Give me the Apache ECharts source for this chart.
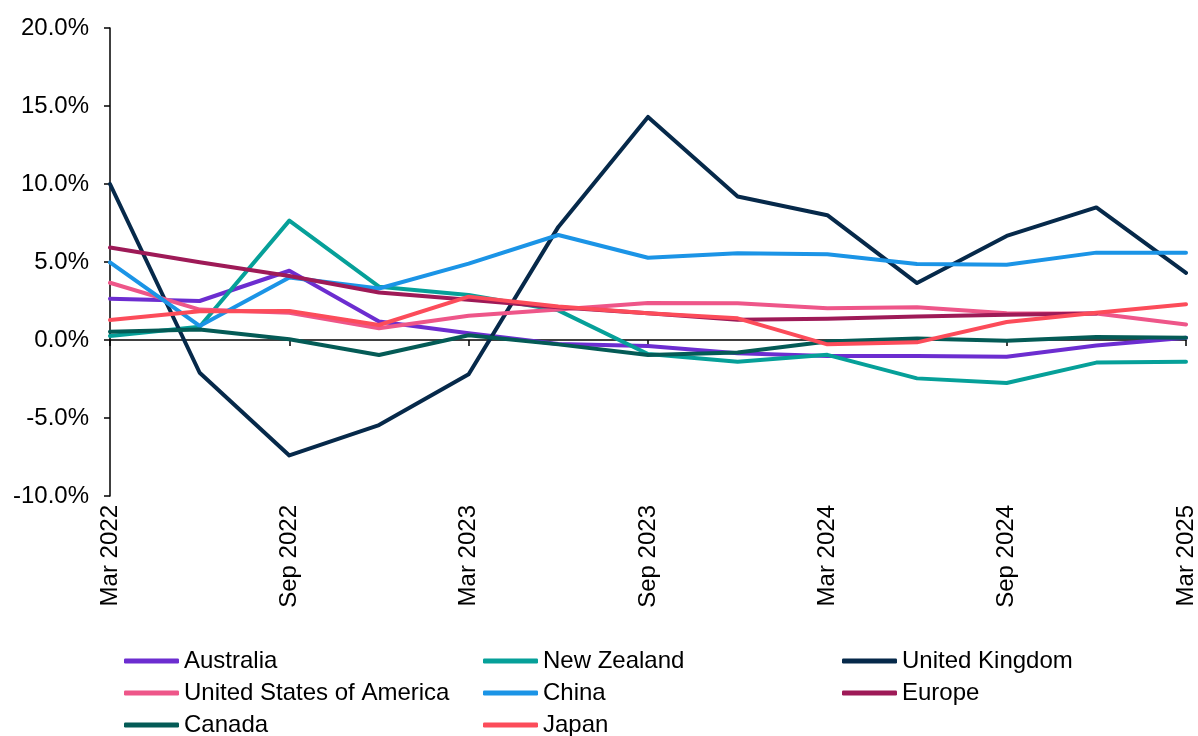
<!DOCTYPE html>
<html>
<head>
<meta charset="utf-8">
<script src="https://cdn.jsdelivr.net/npm/echarts@6/dist/echarts.min.js"></script>
<style>
html,body{margin:0;padding:0;background:#fff;}
#chart{width:1198px;height:736px;}
</style>
</head>
<body>
<div id="chart"></div>
<script>
var categories = ["Mar 2022","Jun 2022","Sep 2022","Dec 2022","Mar 2023","Jun 2023","Sep 2023","Dec 2023","Mar 2024","Jun 2024","Sep 2024","Dec 2024","Mar 2025"];
var australia = [2.65, 2.5, 4.44, 1.18, 0.43, -0.26, -0.38, -0.85, -1.03, -1.03, -1.07, -0.35, 0.15];
var newZealand = [0.26, 0.85, 7.65, 3.42, 2.88, 1.9, -0.9, -1.39, -0.95, -2.46, -2.76, -1.45, -1.39];
var unitedKingdom = [10.0, -2.1, -7.4, -5.45, -2.2, 7.25, 14.3, 9.2, 8.0, 3.65, 6.67, 8.5, 4.3];
var usa = [3.67, 1.95, 1.75, 0.75, 1.55, 1.95, 2.37, 2.35, 2.03, 2.1, 1.71, 1.7, 1.0];
var china = [4.97, 0.9, 4.0, 3.3, 4.9, 6.73, 5.27, 5.56, 5.5, 4.87, 4.83, 5.6, 5.6];
var europe = [5.93, 4.98, 4.1, 3.05, 2.58, 2.1, 1.72, 1.3, 1.37, 1.5, 1.62, 1.7, null];
var canada = [0.53, 0.68, 0.05, -0.96, 0.3, -0.28, -0.96, -0.8, -0.1, 0.1, -0.05, 0.2, 0.15];
var japan = [1.28, 1.85, 1.86, 0.96, 2.78, 2.15, 1.72, 1.39, -0.28, -0.15, 1.15, 1.75, 2.29];
var yTicks = {min: -10, max: 20, interval: 5};

var FONT = '"Liberation Sans", Arial, sans-serif';
var FS = 24;
var seriesDefs = [
  {name: "Australia", data: australia, color: "#6C2DD0"},
  {name: "New Zealand", data: newZealand, color: "#06A099"},
  {name: "United Kingdom", data: unitedKingdom, color: "#06294A"},
  {name: "United States of America", data: usa, color: "#EE5689"},
  {name: "China", data: china, color: "#1B94E6"},
  {name: "Europe", data: europe, color: "#9E1A57"},
  {name: "Canada", data: canada, color: "#045B56"},
  {name: "Japan", data: japan, color: "#FC4C5A"}
];

// legend grid: 3 columns, 3 rows (row-major order as in the reference)
var legendCols = [124, 483, 842];
var legendRows = [660, 692, 724];

function legendItem(name, idx) {
  var col = idx % 3, row = Math.floor(idx / 3);
  return {
    show: true,
    orient: 'horizontal',
    left: legendCols[col],
    top: legendRows[row] - 11,
    data: [name],
    icon: 'roundRect',
    itemWidth: 55,
    itemHeight: 5,
    padding: 0,
    textStyle: {fontFamily: FONT, fontSize: FS, color: '#000', lineHeight: 22, padding: 0}
  };
}

var chart = echarts.init(document.getElementById('chart'), null, {renderer: 'canvas'});
chart.setOption({
  animation: false,
  backgroundColor: '#ffffff',
  grid: {left: 110, right: 11, top: 28, bottom: 240, containLabel: false},
  legend: seriesDefs.map(function (s, i) { return legendItem(s.name, i); }),
  xAxis: [
    {
      type: 'category', data: categories, boundaryGap: false, position: 'bottom',
      axisLine: {show: false, onZero: false},
      axisTick: {show: false},
      axisLabel: {interval: 1, rotate: 90, margin: 9, fontFamily: FONT, fontSize: FS, color: '#000'},
      splitLine: {show: false}
    },
    {
      type: 'category', data: categories, boundaryGap: false, position: 'bottom',
      axisLine: {show: true, onZero: true, lineStyle: {color: '#000', width: 1.5}},
      axisTick: {show: true, interval: 1, length: 6, inside: false, lineStyle: {color: '#000', width: 1.5}},
      axisLabel: {show: false},
      splitLine: {show: false}
    }
  ],
  yAxis: {
    type: 'value', min: yTicks.min, max: yTicks.max, interval: yTicks.interval,
    axisLine: {show: true, lineStyle: {color: '#000', width: 1.5}},
    axisTick: {show: true, length: 6, lineStyle: {color: '#000', width: 1.5}},
    axisLabel: {margin: 21, fontFamily: FONT, fontSize: FS, color: '#000',
      formatter: function (v) { return v.toFixed(1) + '%'; }},
    splitLine: {show: false}
  },
  series: seriesDefs.map(function (s) {
    return {
      name: s.name, type: 'line', data: s.data, xAxisIndex: 0,
      symbol: 'none', connectNulls: false,
      color: s.color,
      lineStyle: {color: s.color, width: 4, cap: 'round', join: 'round'},
      itemStyle: {color: s.color}
    };
  })
});
</script>
</body>
</html>
